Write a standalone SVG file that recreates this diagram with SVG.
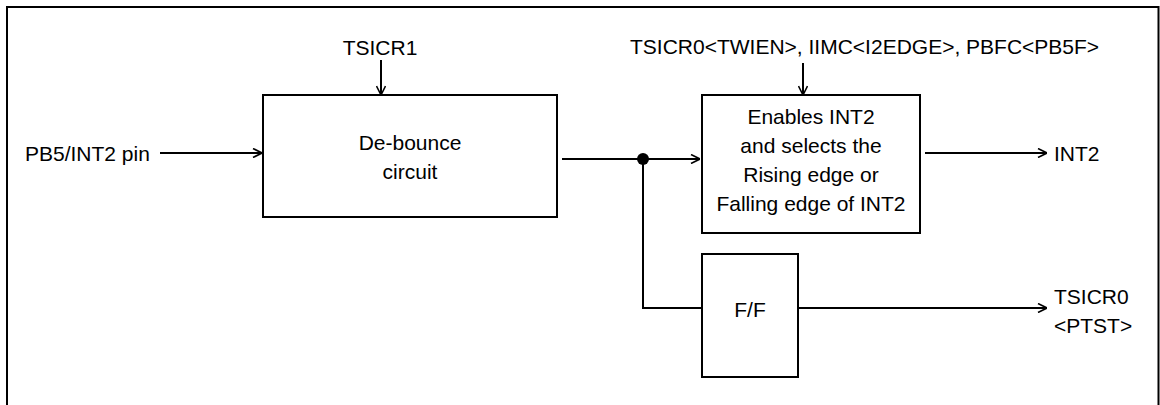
<svg xmlns="http://www.w3.org/2000/svg" width="1160" height="405" viewBox="0 0 1160 405">
  <defs>
    <style>
      .box { fill: #ffffff; stroke: #000000; stroke-width: 2; }
      .wire { fill: none; stroke: #000000; stroke-width: 2; }
      .t { font-family: "Liberation Sans", Arial, sans-serif; font-size: 21px; fill: #000000; }
      .c { text-anchor: middle; }
    </style>
    <marker id="arr" viewBox="0 0 10 10" refX="10" refY="5" markerWidth="10" markerHeight="10" markerUnits="userSpaceOnUse" orient="auto">
      <path d="M1,0.5 L10,5 L1,9.5" fill="none" stroke="#000000" stroke-width="1.6"/>
    </marker>
  </defs>
  <rect x="0" y="0" width="1160" height="405" fill="#ffffff"/>
  <rect id="frame" x="7" y="7" width="1151.5" height="420" fill="none" stroke="#000000" stroke-width="2"/>

  <g id="connectors">
    <line class="wire" x1="160" y1="153" x2="262" y2="153" marker-end="url(#arr)"/>
    <line class="wire" x1="381" y1="60" x2="381" y2="95" marker-end="url(#arr)"/>
    <line class="wire" x1="803" y1="63" x2="803" y2="95" marker-end="url(#arr)"/>
    <line class="wire" x1="562" y1="159" x2="700" y2="159" marker-end="url(#arr)"/>
    <polyline class="wire" points="643,159 643,308 701,308"/>
    <line class="wire" x1="925" y1="153" x2="1047" y2="153" marker-end="url(#arr)"/>
    <line class="wire" x1="798" y1="308" x2="1047" y2="308" marker-end="url(#arr)"/>
    <circle cx="643" cy="159" r="6" fill="#000000"/>
  </g>

  <g id="pin-label">
    <text class="t" x="25" y="161">PB5/INT2 pin</text>
  </g>
  <g id="tsicr1-label">
    <text class="t c" x="380" y="55">TSICR1</text>
  </g>
  <g id="debounce">
    <rect class="box" x="263" y="95" width="294" height="122"/>
    <text class="t c" x="410" y="150">De-bounce</text>
    <text class="t c" x="410" y="179">circuit</text>
  </g>
  <g id="enable-label">
    <text class="t" x="630" y="54">TSICR0&lt;TWIEN&gt;, IIMC&lt;I2EDGE&gt;, PBFC&lt;PB5F&gt;</text>
  </g>
  <g id="enable">
    <rect class="box" x="702" y="95" width="218" height="138"/>
    <text class="t c" x="811" y="124">Enables INT2</text>
    <text class="t c" x="811" y="153">and selects the</text>
    <text class="t c" x="811" y="182">Rising edge or</text>
    <text class="t c" x="811" y="211">Falling edge of INT2</text>
  </g>
  <g id="ff">
    <rect class="box" x="702" y="254" width="96" height="123"/>
    <text class="t c" x="750" y="317">F/F</text>
  </g>
  <g id="int2-label">
    <text class="t" x="1054" y="161">INT2</text>
  </g>
  <g id="ptst-label">
    <text class="t" x="1054" y="304">TSICR0</text>
    <text class="t" x="1054" y="333">&lt;PTST&gt;</text>
  </g>
</svg>
